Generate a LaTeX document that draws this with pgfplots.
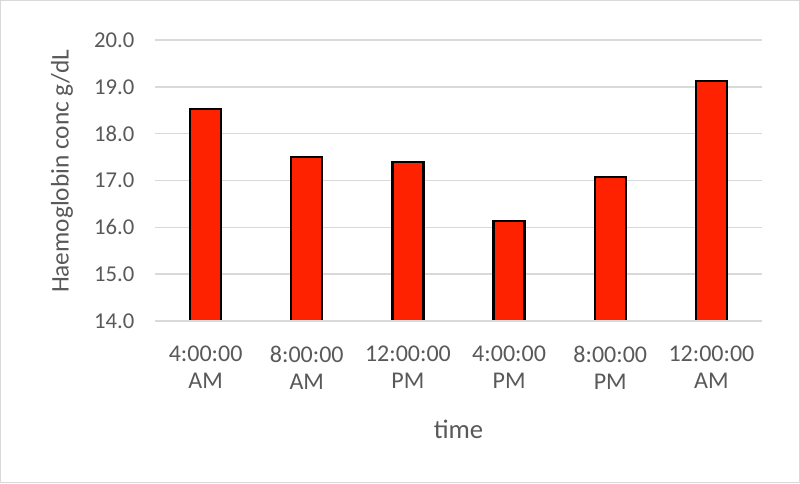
\documentclass[border=0pt]{standalone}
\usepackage{fontspec}
\setmainfont{Carlito}
\usepackage{pgfplots}
\pgfplotsset{compat=1.18}

\definecolor{barred}{RGB}{255,34,0}
\definecolor{txt}{RGB}{89,89,89}
\definecolor{gridgray}{RGB}{217,217,217}

\begin{document}
\begin{tikzpicture}
\path[use as bounding box] (-116.25pt,-122.25pt) rectangle (483.75pt,240.75pt);
\draw[gridgray, line width=0.75pt] (-115.5pt,-121.5pt) rectangle (483pt,240pt);
\begin{axis}[
    at={(0pt,0pt)}, anchor=south west,
    scale only axis,
    width=455.25pt, height=210.75pt,
    ybar, bar width=23.25pt,
    xmin=-0.5, xmax=5.5,
    ymin=14, ymax=20,
    ytick={14,15,...,20},
    yticklabel style={/pgf/number format/fixed, /pgf/number format/fixed zerofill, /pgf/number format/precision=1},
    /pgf/number format/assume math mode=true,
    xtick=data,
    xticklabels={{4:00:00\\AM},{8:00:00\\AM},{12:00:00\\PM},{4:00:00\\PM},{8:00:00\\PM},{12:00:00\\AM}},
    xticklabel style={align=center, text=txt, font=\fontsize{18}{20}\selectfont, yshift=-11pt},
    yticklabel style={text=txt, font=\fontsize{17}{20}\selectfont, xshift=-12pt},
    tick style={draw=none},
    axis line style={draw=none},
    axis x line*=bottom,
    xmajorgrids=false, ymajorgrids, grid style={gridgray, line width=1.1pt},
    xlabel={time}, ylabel={Haemoglobin conc g/dL},
    xlabel style={text=txt, font=\fontsize{20}{24}\selectfont, yshift=-16.5pt},
    ylabel style={text=txt, font=\fontsize{19}{23}\selectfont, yshift=9pt, xshift=7pt},
    clip=false,
]
\addplot[fill=barred, draw=black, line width=1.8pt] coordinates {
(0,18.53) (1,17.50) (2,17.40) (3,16.13) (4,17.08) (5,19.13)};
\draw[gridgray, line width=1.1pt] (rel axis cs:0,0) -- (rel axis cs:1,0);
\end{axis}
\end{tikzpicture}
\end{document}
